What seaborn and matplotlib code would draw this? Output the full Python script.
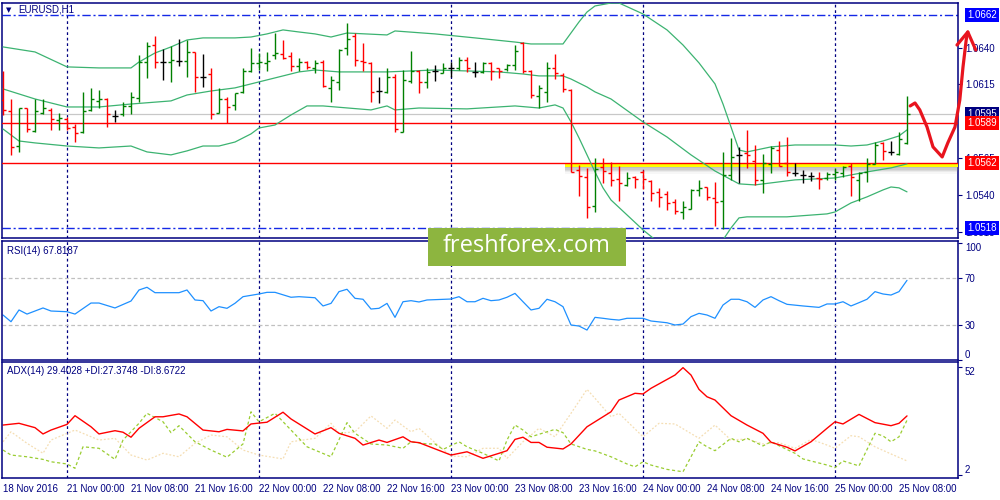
"""
EURUSD H1 bar chart with Bollinger bands, RSI(14) and ADX(14) panels.
Values read off a MetaTrader screenshot (18 Nov 16:00 .. 25 Nov 09:00).
"""
import numpy as np
import matplotlib
matplotlib.use("Agg")
import matplotlib.pyplot as plt
import matplotlib.patheffects as pe
from matplotlib.patches import Rectangle
from matplotlib.transforms import blended_transform_factory
import seaborn as sns

# ---------------------------------------------------------------- price bars
OPEN = [
    1.06045, 1.05971, 1.05734, 1.05991, 1.05836, 1.05958, 1.05978, 1.05910, 1.05917, 1.05863,
    1.05829, 1.05978, 1.06039, 1.06052, 1.05937, 1.05951, 1.06005, 1.06059, 1.06302, 1.06417,
    1.06302, 1.06302, 1.06309, 1.06309, 1.06370, 1.06201, 1.06221, 1.05958, 1.06052, 1.06012,
    1.06100, 1.06241, 1.06296, 1.06296, 1.06350, 1.06356, 1.06343, 1.06275, 1.06302, 1.06262,
    1.06302, 1.06127, 1.06167, 1.06397, 1.06478, 1.06309, 1.06296, 1.06106, 1.06100, 1.06201,
    1.05829, 1.06174, 1.06241, 1.06167, 1.06241, 1.06228, 1.06262, 1.06262, 1.06316, 1.06235,
    1.06235, 1.06296, 1.06262, 1.06255, 1.06282, 1.06431, 1.06241, 1.06072, 1.06100, 1.06262,
    1.06214, 1.06113, 1.05572, 1.05525, 1.05329, 1.05593, 1.05552, 1.05511, 1.05471, 1.05525,
    1.05559, 1.05498, 1.05424, 1.05410, 1.05356, 1.05288, 1.05309, 1.05437, 1.05457, 1.05383,
    1.05363, 1.05538, 1.05674, 1.05687, 1.05633, 1.05505, 1.05613, 1.05707, 1.05620, 1.05552,
    1.05538, 1.05532, 1.05518, 1.05518, 1.05545, 1.05552, 1.05599, 1.05505, 1.05559, 1.05613,
    1.05755, 1.05694, 1.05680, 1.05755,
]
HIGH = [
    1.06241, 1.06052, 1.05991, 1.05991, 1.06052, 1.06052, 1.05991, 1.05958, 1.05931, 1.05883,
    1.06100, 1.06127, 1.06113, 1.06059, 1.05978, 1.06032, 1.06100, 1.06350, 1.06437, 1.06478,
    1.06390, 1.06410, 1.06458, 1.06451, 1.06370, 1.06356, 1.06262, 1.06127, 1.06066, 1.06093,
    1.06262, 1.06397, 1.06363, 1.06370, 1.06498, 1.06451, 1.06370, 1.06329, 1.06309, 1.06316,
    1.06316, 1.06208, 1.06390, 1.06566, 1.06498, 1.06431, 1.06302, 1.06201, 1.06262, 1.06221,
    1.06248, 1.06377, 1.06248, 1.06262, 1.06282, 1.06296, 1.06302, 1.06336, 1.06336, 1.06302,
    1.06302, 1.06302, 1.06262, 1.06289, 1.06417, 1.06437, 1.06248, 1.06147, 1.06302, 1.06356,
    1.06228, 1.06120, 1.05606, 1.05586, 1.05653, 1.05653, 1.05626, 1.05599, 1.05559, 1.05532,
    1.05572, 1.05505, 1.05451, 1.05430, 1.05376, 1.05363, 1.05444, 1.05505, 1.05457, 1.05491,
    1.05694, 1.05789, 1.05728, 1.05843, 1.05741, 1.05680, 1.05734, 1.05768, 1.05795, 1.05620,
    1.05572, 1.05559, 1.05559, 1.05559, 1.05586, 1.05599, 1.05620, 1.05559, 1.05653, 1.05761,
    1.05761, 1.05768, 1.05829, 1.06072,
]
LOW = [
    1.05944, 1.05674, 1.05694, 1.05829, 1.05829, 1.05951, 1.05843, 1.05843, 1.05843, 1.05761,
    1.05822, 1.05971, 1.05991, 1.05863, 1.05897, 1.05937, 1.05951, 1.06032, 1.06194, 1.06262,
    1.06181, 1.06167, 1.06275, 1.06201, 1.06100, 1.06133, 1.05917, 1.05958, 1.05890, 1.05978,
    1.06093, 1.06235, 1.06248, 1.06241, 1.06323, 1.06323, 1.06241, 1.06241, 1.06255, 1.06228,
    1.06133, 1.06032, 1.06113, 1.06350, 1.06275, 1.06241, 1.06032, 1.06025, 1.06093, 1.05829,
    1.05829, 1.06160, 1.06093, 1.06127, 1.06174, 1.06228, 1.06201, 1.06248, 1.06235, 1.06201,
    1.06228, 1.06181, 1.06194, 1.06241, 1.06248, 1.06228, 1.06059, 1.05991, 1.06032, 1.06187,
    1.06100, 1.05559, 1.05396, 1.05248, 1.05288, 1.05484, 1.05464, 1.05363, 1.05464, 1.05451,
    1.05444, 1.05363, 1.05322, 1.05302, 1.05275, 1.05241, 1.05309, 1.05396, 1.05369, 1.05194,
    1.05173, 1.05505, 1.05484, 1.05586, 1.05471, 1.05417, 1.05552, 1.05599, 1.05532, 1.05532,
    1.05484, 1.05498, 1.05444, 1.05505, 1.05505, 1.05525, 1.05396, 1.05363, 1.05491, 1.05613,
    1.05640, 1.05674, 1.05674, 1.05748,
]
CLOSE = [
    1.05978, 1.05728, 1.05991, 1.05849, 1.05971, 1.05991, 1.05917, 1.05924, 1.05856, 1.05822,
    1.05971, 1.06052, 1.06052, 1.05951, 1.05937, 1.06005, 1.06066, 1.06302, 1.06410, 1.06302,
    1.06302, 1.06316, 1.06309, 1.06370, 1.06201, 1.06201, 1.05951, 1.06052, 1.05998, 1.06093,
    1.06241, 1.06296, 1.06302, 1.06309, 1.06363, 1.06329, 1.06275, 1.06302, 1.06269, 1.06296,
    1.06140, 1.06181, 1.06383, 1.06458, 1.06316, 1.06302, 1.06100, 1.06106, 1.06201, 1.05849,
    1.06181, 1.06241, 1.06167, 1.06235, 1.06241, 1.06262, 1.06262, 1.06316, 1.06262, 1.06235,
    1.06296, 1.06241, 1.06241, 1.06282, 1.06377, 1.06241, 1.06079, 1.06127, 1.06262, 1.06228,
    1.06120, 1.05559, 1.05532, 1.05322, 1.05579, 1.05565, 1.05505, 1.05484, 1.05518, 1.05511,
    1.05511, 1.05417, 1.05390, 1.05349, 1.05295, 1.05322, 1.05437, 1.05451, 1.05390, 1.05356,
    1.05538, 1.05660, 1.05674, 1.05674, 1.05505, 1.05620, 1.05721, 1.05599, 1.05559, 1.05552,
    1.05538, 1.05532, 1.05511, 1.05545, 1.05559, 1.05593, 1.05525, 1.05552, 1.05613, 1.05741,
    1.05701, 1.05694, 1.05782, 1.05951,
]

# ---------------------------------------------------------- Bollinger bands
UPPER_BARS = [0, 4, 8, 12, 16, 17, 19, 21, 23, 25, 29, 31, 33, 35, 37, 39, 41, 43, 48, 49,
              54, 59, 64, 66, 70, 72, 73, 74, 76, 77, 80, 83, 85, 87, 89, 90, 91, 92, 93, 96,
              99, 104, 106, 108, 110, 112, 113]
UPPER_BAND = [1.06404, 1.06370, 1.06269, 1.06262, 1.06262, 1.06302, 1.06363, 1.06404, 1.06451, 1.06465,
              1.06465, 1.06471, 1.06492, 1.06519, 1.06505, 1.06492, 1.06471, 1.06498, 1.06485, 1.06512,
              1.06492, 1.06465, 1.06437, 1.06424, 1.06424, 1.06573, 1.06640, 1.06681, 1.06701, 1.06701,
              1.06627, 1.06519, 1.06417, 1.06296, 1.06154, 1.06018, 1.05863, 1.05707, 1.05694, 1.05728,
              1.05741, 1.05741, 1.05734, 1.05741, 1.05768, 1.05802, 1.05843]
MID_BARS = [0, 4, 8, 12, 16, 21, 23, 26, 29, 31, 33, 37, 39, 42, 48, 54, 62, 65, 67, 70,
            71, 73, 74, 76, 80, 83, 86, 89, 92, 94, 99, 104, 108, 111, 113]
MID_BAND = [1.06120, 1.06052, 1.05998, 1.05998, 1.06018, 1.06039, 1.06079, 1.06106, 1.06127, 1.06154,
            1.06181, 1.06235, 1.06248, 1.06235, 1.06235, 1.06248, 1.06235, 1.06221, 1.06208, 1.06208,
            1.06187, 1.06133, 1.06100, 1.06052, 1.05897, 1.05795, 1.05674, 1.05565, 1.05478, 1.05471,
            1.05505, 1.05518, 1.05559, 1.05586, 1.05613]
LOWER_BARS = [0, 2, 4, 8, 12, 16, 18, 21, 23, 25, 27, 29, 31, 32, 34, 36, 38, 40, 46, 48,
              49, 52, 58, 64, 67, 69, 70, 71, 72, 73, 74, 75, 76, 78, 80, 82, 84, 86, 88, 89,
              90, 91, 92, 93, 98, 103, 104, 106, 108, 110, 111, 112, 113]
LOWER_BAND = [1.05849, 1.05768, 1.05755, 1.05734, 1.05721, 1.05734, 1.05694, 1.05674, 1.05701, 1.05734,
              1.05734, 1.05761, 1.05816, 1.05856, 1.05876, 1.05944, 1.06005, 1.06005, 1.05978, 1.06005,
              1.05978, 1.05991, 1.05985, 1.06005, 1.05991, 1.06012, 1.05991, 1.05897, 1.05789, 1.05674,
              1.05559, 1.05451, 1.05369, 1.05268, 1.05167, 1.05079, 1.05018, 1.04991, 1.05018, 1.05058,
              1.05099, 1.05180, 1.05248, 1.05255, 1.05255, 1.05275, 1.05288, 1.05349, 1.05390, 1.05437,
              1.05457, 1.05451, 1.05424]

# ------------------------------------------------------------------- RSI(14)
RSI_BARS = [0, 1, 2, 3, 4, 5, 6, 8, 9, 11, 12, 14, 16, 17, 18, 19, 22, 23, 24, 25,
            26, 27, 28, 29, 30, 32, 33, 34, 36, 37, 39, 40, 41, 42, 43, 44, 45, 46, 47, 48,
            49, 50, 51, 52, 53, 56, 57, 58, 59, 60, 61, 62, 63, 64, 65, 66, 67, 68, 69, 70,
            71, 72, 73, 74, 75, 76, 77, 78, 80, 81, 83, 84, 85, 86, 87, 88, 89, 90, 91, 92,
            93, 94, 95, 96, 97, 98, 100, 102, 103, 104, 105, 106, 107, 108, 109, 110, 111, 112, 113]
RSI_VALUES = [38.3, 32.6, 42.6, 39.1, 41.7, 44.3, 41.7, 41.1, 39.1, 48.5, 48.5, 44.3, 50.2, 59.6, 61.9,
              57.3, 57.3, 59.6, 51.1, 50.5, 41.7, 45.4, 44.0, 48.3, 53.9, 56.2, 57.6, 57.6, 53.4, 53.9,
              53.0, 46.0, 48.2, 58.2, 60.2, 52.5, 51.7, 43.4, 44.0, 48.2, 36.3, 49.6, 50.5, 49.4, 51.1,
              51.9, 53.9, 49.6, 49.6, 52.5, 50.5, 51.1, 53.4, 56.7, 49.6, 42.6, 44.0, 51.7, 49.6, 45.4,
              29.8, 28.9, 25.5, 36.3, 35.5, 34.6, 34.0, 35.5, 35.5, 33.2, 31.7, 29.8, 30.6, 36.9, 39.7,
              38.3, 35.5, 46.8, 51.7, 51.7, 49.6, 44.8, 51.1, 53.9, 50.5, 47.4, 46.0, 44.8, 47.7, 47.7,
              49.6, 46.0, 48.8, 51.7, 58.2, 56.2, 55.3, 58.2, 67.8]

# ------------------------------------------------------------------- ADX(14)
ADX_BARS = [0, 2, 4, 5, 6, 8, 9, 11, 12, 14, 15, 16, 17, 19, 20, 22, 23, 25, 27, 28,
            30, 31, 33, 35, 36, 39, 41, 42, 44, 45, 47, 48, 50, 51, 52, 56, 58, 60, 62, 63,
            64, 65, 66, 67, 68, 70, 71, 73, 76, 77, 79, 80, 81, 84, 85, 86, 87, 88, 89, 91,
            93, 95, 96, 98, 99, 101, 103, 104, 105, 107, 109, 111, 112, 113]
ADX_VALUES = [25.2, 26.0, 24.0, 21.1, 22.9, 25.5, 29.5, 24.4, 21.1, 22.6, 21.9, 19.6, 23.7, 29.0, 29.0,
              30.3, 29.0, 22.9, 22.1, 23.2, 22.5, 25.7, 26.5, 31.1, 28.0, 21.1, 24.0, 21.4, 19.1, 16.0,
              18.3, 17.2, 19.8, 17.5, 17.1, 11.4, 12.9, 9.9, 12.2, 13.4, 18.6, 19.6, 17.2, 17.2, 15.0,
              14.2, 16.5, 24.4, 31.3, 36.7, 39.8, 39.5, 42.1, 48.2, 51.6, 48.2, 41.6, 38.2, 36.7, 29.5,
              25.2, 21.4, 17.3, 15.0, 13.3, 17.5, 23.7, 26.7, 25.7, 30.1, 26.3, 24.9, 26.0, 29.4]
PDI_BARS = [0, 1, 3, 5, 6, 8, 9, 10, 12, 14, 15, 17, 18, 20, 21, 22, 24, 26, 28, 30,
            31, 32, 34, 36, 38, 41, 43, 44, 46, 48, 50, 51, 53, 54, 55, 57, 58, 60, 62, 63,
            64, 65, 66, 68, 69, 70, 71, 73, 74, 76, 78, 79, 80, 81, 83, 85, 87, 88, 89, 91,
            92, 93, 95, 96, 97, 99, 100, 103, 104, 105, 107, 109, 110, 111, 112, 113]
PDI_VALUES = [13.7, 11.4, 10.6, 9.4, 8.3, 7.3, 5.3, 15.2, 14.5, 9.4, 18.3, 26.0, 30.6, 26.7, 21.7,
              24.9, 17.5, 13.7, 10.4, 16.5, 31.3, 26.7, 30.6, 22.9, 15.2, 10.6, 26.3, 21.4, 16.5, 16.0,
              14.5, 17.5, 16.5, 16.5, 14.0, 17.5, 15.2, 12.2, 8.7, 18.3, 25.2, 22.9, 19.8, 22.1, 23.2,
              21.7, 16.5, 14.0, 13.3, 10.6, 7.3, 6.0, 8.3, 6.8, 4.8, 3.7, 17.5, 15.2, 13.4, 19.1,
              17.5, 19.1, 15.6, 17.5, 15.7, 12.2, 9.6, 6.8, 5.6, 8.7, 6.4, 21.4, 20.2, 17.5, 19.8, 27.4]
MDI_BARS = [0, 1, 3, 5, 6, 9, 12, 14, 16, 18, 20, 22, 24, 26, 28, 30, 32, 35, 36, 39,
            41, 42, 44, 46, 48, 49, 51, 52, 54, 56, 58, 60, 62, 63, 65, 67, 69, 70, 71, 73,
            74, 76, 77, 80, 82, 84, 87, 89, 91, 93, 95, 97, 99, 101, 103, 104, 106, 107, 109, 111, 113]
MDI_VALUES = [17.5, 22.1, 16.8, 12.2, 18.3, 22.9, 18.3, 19.1, 11.4, 9.1, 12.2, 10.6, 16.8, 20.6, 19.8,
              13.7, 11.4, 9.6, 17.5, 19.1, 26.0, 21.4, 22.1, 29.4, 23.7, 27.5, 22.1, 23.7, 17.1, 11.0,
              10.6, 14.5, 14.5, 9.9, 17.5, 23.7, 19.8, 25.2, 30.6, 41.6, 37.5, 29.0, 30.6, 19.8, 26.0,
              25.7, 19.1, 25.2, 18.3, 18.8, 16.5, 17.1, 14.5, 18.6, 16.0, 14.5, 20.3, 19.8, 15.2, 11.9, 8.7]

# ------------------------------------------------------------ levels, labels
DAY_STARTS = [8, 32, 56, 80, 104]
DATE_TICK_BARS = [0, 8, 16, 24, 32, 40, 48, 56, 64, 72, 80, 88, 96, 104, 112]
DATE_LABELS = ["18 Nov 2016", "21 Nov 00:00", "21 Nov 08:00", "21 Nov 16:00",
               "22 Nov 00:00", "22 Nov 08:00", "22 Nov 16:00", "23 Nov 00:00",
               "23 Nov 08:00", "23 Nov 16:00", "24 Nov 00:00", "24 Nov 08:00",
               "24 Nov 16:00", "25 Nov 00:00", "25 Nov 08:00"]
PRICE_TICKS = [1.0515, 1.0540, 1.0565, 1.0615, 1.0640]
RANGE_LEVELS = [1.0662, 1.0518]          # blue dash-dot lines
RED_LEVELS = [1.0589, 1.0562]            # red horizontal lines
BID = 1.0595
ZONE_START, ZONE_TOP, ZONE_BOTTOM = 70.25, 1.0562, 1.05593
PRICE_TAGS = [(1.0662, "#0000FF"), (1.0595, "#000080"), (1.0589, "#FF0000"),
              (1.0562, "#FF0000"), (1.0518, "#0000FF")]

# hand-drawn forecast arrow (bar index, price)
ARROW_BARS = [113.4, 114.0, 114.6, 115.5, 116.25, 117.4, 118.1, 119.0, 119.6, 120.0, 120.4, 120.6]
ARROW_PRICES = [1.06005, 1.06025, 1.05978, 1.05863, 1.05728, 1.05660, 1.05755, 1.05863,
                1.06045, 1.06268, 1.06451, 1.06505]
ARROW_HEAD_BARS = [119.25, 120.6, 121.6]
ARROW_HEAD_PRICES = [1.06417, 1.06505, 1.06383]

NAVY = "#000080"
UP_COL, DOWN_COL, DOJI_COL = "#008000", "#FF0000", "#000000"
BAND_COL = "#3CB371"
XLIM = (-0.125, 119.375)

sns.set_style("white")
plt.rcParams["font.family"] = ["Liberation Sans", "DejaVu Sans"]

fig = plt.figure(figsize=(10, 5), dpi=100)


def px_axes(x0, y0, x1, y1):
    return fig.add_axes([x0 / 1000, 1 - y1 / 500, (x1 - x0) / 1000, (y1 - y0) / 500])


ax = px_axes(2, 3, 958, 238)
ax_rsi = px_axes(2, 241, 958, 360)
ax_adx = px_axes(2, 362, 958, 478)

# ---------------------------------------------------------------- main panel
bars = np.arange(len(OPEN))
o, h, l, c = (np.asarray(v) for v in (OPEN, HIGH, LOW, CLOSE))
cols = np.where(c > o, UP_COL, np.where(c < o, DOWN_COL, DOJI_COL))
ax.vlines(bars, l, h, colors=cols, lw=1.0, zorder=5)
ax.hlines(o, bars - 0.4, bars, colors=cols, lw=1.0, zorder=5)
ax.hlines(c, bars, bars + 0.4, colors=cols, lw=1.0, zorder=5)

for xs, ys in [(UPPER_BARS, UPPER_BAND), (MID_BARS, MID_BAND), (LOWER_BARS, LOWER_BAND)]:
    sns.lineplot(x=xs, y=ys, ax=ax, color=BAND_COL, lw=0.9, zorder=4)

ax.axhline(BID, color="#C8C8C8", lw=0.9, zorder=2)
for lv in RANGE_LEVELS:
    ax.axhline(lv, color="#1428E6", lw=1.0, ls=(0, (6, 2, 1.5, 2)), zorder=2)

shadows = [pe.SimplePatchShadow(offset=(0, -k), shadow_rgbFace="#808080", alpha=a)
           for k, a in [(1, 0.25), (2, 0.2), (3, 0.15), (4, 0.1), (5, 0.06)]]
ax.add_patch(Rectangle((ZONE_START, ZONE_BOTTOM), XLIM[1] - ZONE_START, ZONE_TOP - ZONE_BOTTOM,
                       fc="#FFFF00", ec="none", zorder=3,
                       path_effects=shadows + [pe.Normal()]))
for lv in RED_LEVELS:
    ax.axhline(lv, color="#FF0000", lw=1.0, zorder=3.5)

ax.plot(ARROW_BARS, ARROW_PRICES, color="#E8141E", lw=2.3, solid_capstyle="round",
        solid_joinstyle="round", clip_on=False, zorder=20)
ax.plot(ARROW_HEAD_BARS, ARROW_HEAD_PRICES, color="#E8141E", lw=2.3, solid_capstyle="round",
        clip_on=False, zorder=20)

ax.set_ylim(1.05112, 1.06701)
ax.set_yticks(PRICE_TICKS)
ax.set_yticklabels([f"{t:.4f}" for t in PRICE_TICKS])

tag_tf = blended_transform_factory(ax.transAxes, ax.transData)
for lv, col in PRICE_TAGS:
    ax.text(1.0093, lv, f"{lv:.4f}", transform=tag_tf, color="white", fontsize=7,
            ha="left", va="center", zorder=15, clip_on=False,
            bbox=dict(boxstyle="square,pad=0.22", fc=col, ec="none"))

# ----------------------------------------------------------------- RSI panel
ax_rsi.axhline(70, color="#C0C0C0", lw=0.9, ls=(0, (3, 2)))
ax_rsi.axhline(30, color="#C0C0C0", lw=0.9, ls=(0, (3, 2)))
sns.lineplot(x=RSI_BARS, y=RSI_VALUES, ax=ax_rsi, color="#1E90FF", lw=0.9)
ax_rsi.set_ylim(0, 101.3)
ax_rsi.set_yticks([0, 30, 70, 100])

# ----------------------------------------------------------------- ADX panel
sns.lineplot(x=MDI_BARS, y=MDI_VALUES, ax=ax_adx, color="#F5DEB3", lw=0.9, linestyle=(0, (1.5, 1.5)))
sns.lineplot(x=PDI_BARS, y=PDI_VALUES, ax=ax_adx, color="#9ACD32", lw=0.9, linestyle=(0, (2.5, 2)))
sns.lineplot(x=ADX_BARS, y=ADX_VALUES, ax=ax_adx, color="#FF0000", lw=1.0)
ax_adx.set_ylim(0.84, 54.2)
ax_adx.set_yticks([2, 52])

# ---------------------------------------------------------- shared styling
for a in (ax, ax_rsi, ax_adx):
    a.set_xlim(*XLIM)
    a.set_xlabel("")
    a.set_ylabel("")
    for s in a.spines.values():
        s.set_color(NAVY)
        s.set_linewidth(1.1)
    a.yaxis.tick_right()
    a.tick_params(axis="y", colors=NAVY, labelcolor=NAVY, labelsize=7,
                  length=3, width=0.8, pad=2, direction="out")
    for d in DAY_STARTS:
        a.axvline(d, color=NAVY, lw=0.9, ls=(0, (2.2, 2.2)), zorder=1)

ax.set_xticks([])
ax_rsi.set_xticks([])
ax_adx.set_xticks(DATE_TICK_BARS)
ax_adx.set_xticklabels(DATE_LABELS, ha="left")
ax_adx.tick_params(axis="x", colors=NAVY, labelcolor=NAVY, labelsize=7,
                   length=5, width=0.8, direction="inout", pad=2)

rsi_labels = ax_rsi.get_yticklabels()
rsi_labels[0].set_va("bottom")
rsi_labels[-1].set_va("top")
adx_labels = ax_adx.get_yticklabels()
adx_labels[0].set_va("bottom")
adx_labels[-1].set_va("top")

# ------------------------------------------------------------------- texts
fig.text(9 / 1000, 1 - 10 / 500, "\u25bc", fontsize=5, color=NAVY, family="DejaVu Sans",
         ha="center", va="center")
fig.text(18 / 1000, 1 - 10 / 500, "EURUSD,H1", fontsize=7, color=NAVY, va="center")
fig.text(7 / 1000, 1 - 251 / 500, "RSI(14) 67.8187", fontsize=7, color=NAVY, va="center")
fig.text(7 / 1000, 1 - 371 / 500, "ADX(14) 29.4028 +DI:27.3748 -DI:8.6722", fontsize=7,
         color=NAVY, va="center")

# watermark
fig.add_artist(Rectangle((0.428, 0.468), 0.198, 0.076, transform=fig.transFigure,
                         fc="#8DB53F", ec="none", zorder=10))
fig.text(0.527, 0.507, "freshforex.com", color="white", fontsize=17, family="Open Sans",
         ha="center", va="center", zorder=11)

fig.savefig("out.png", dpi=100)
plt.close(fig)
